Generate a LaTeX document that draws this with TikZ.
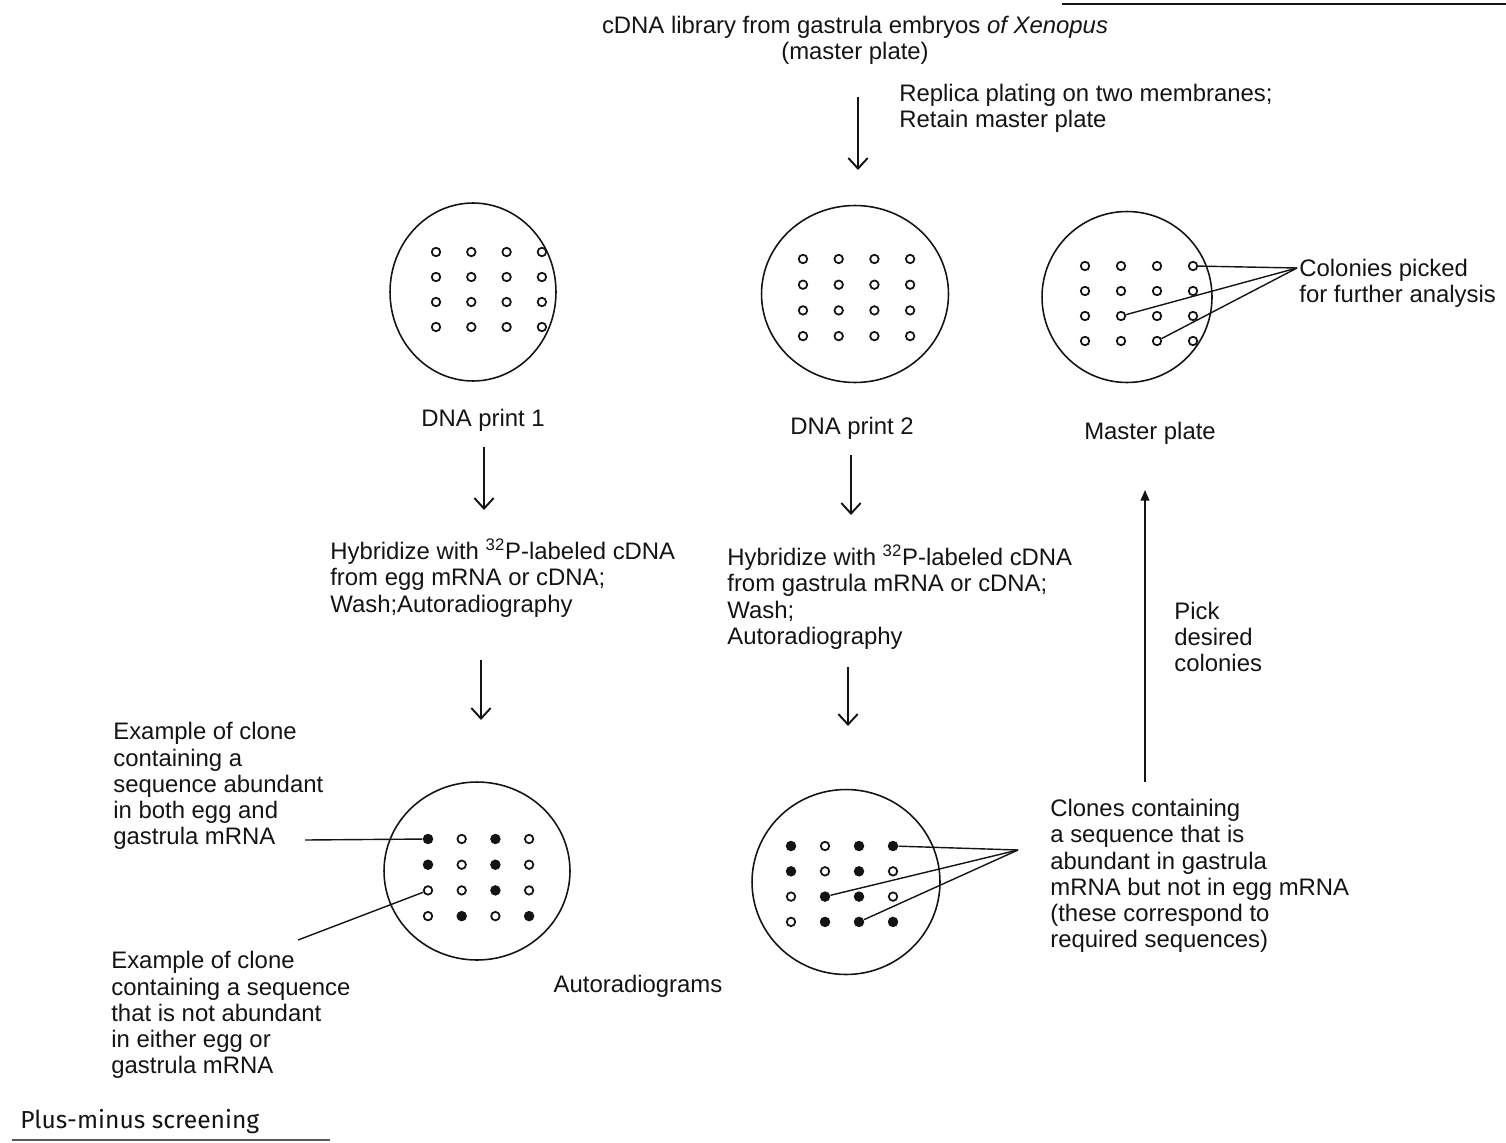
\documentclass[tikz,border=0pt]{standalone}
\usepackage{fontspec}
\setmainfont{Liberation Sans}
\newfontfamily\capfont{Fira Sans}
\usepackage{xcolor}
\usetikzlibrary{arrows.meta,shapes.geometric,positioning}
\definecolor{inkblack}{RGB}{20,20,20}

\begin{document}
\begin{tikzpicture}[
  x=0.02cm,y=-0.02cm,
  every node/.style={text=inkblack},
  txt/.style={font=\fontsize{13.6}{14.9}\selectfont,align=left,inner sep=0pt},
  ctxt/.style={txt,align=center},
  plate/.style={draw=inkblack,ellipse,line width=0.9pt,inner sep=0pt},
  dot0/.style={circle,draw=inkblack,line width=1pt,fill=white,inner sep=0pt,minimum size=0.17cm},
  dot1/.style={circle,fill=inkblack,inner sep=0pt,minimum size=0.21cm},
  flow/.style={-{Straight Barb[length=6pt,width=11pt]},line width=1.1pt,draw=inkblack},
  pick/.style={-{Triangle[length=6pt,width=5pt]},line width=0.8pt,draw=inkblack},
  lead/.style={line width=0.8pt,draw=inkblack}
]
\useasboundingbox (0,0) rectangle (1506,1142);

% master library and replica step
\node[ctxt] (lib) at (855,40) {cDNA library from gastrula embryos \textit{of Xenopus}\\(master plate)};
\coordinate (r1) at (858,97);
\coordinate (r2) at (858,170);
\draw[flow] (r1) -- (r2);
\node[txt,anchor=west] (rep) at (899,108) {Replica plating on two membranes;\\Retain master plate};

% the three plates
\node[plate,minimum width=3.32cm,minimum height=3.56cm] (d1) at (473,292) {};
\node[plate,minimum width=3.74cm,minimum height=3.54cm] (d2) at (855,294) {};
\node[plate,minimum width=3.40cm,minimum height=3.42cm] (mp) at (1127,297) {};
\foreach \r in {1,...,4}
  \foreach \c in {1,...,4} {
    \node[dot0] (pa\r\c) at ({436+(\c-1)*35.3},{252+(\r-1)*25}) {};
    \node[dot0] (pb\r\c) at ({803+(\c-1)*35.7},{259+(\r-1)*25.7}) {};
    \node[dot0] (pm\r\c) at ({1085+(\c-1)*36},{266+(\r-1)*25}) {};
  }
\node[ctxt] (d1lab) at (483,420) {DNA print 1};
\node[ctxt] (d2lab) at (852,428) {DNA print 2};
\node[ctxt] (mplab) at (1150,433) {Master plate};

\coordinate (cp) at (1297,268);
\draw[lead] (pm14) -- (cp);
\draw[lead] (pm32) -- (cp);
\draw[lead] (pm43) -- (cp);
\node[txt,anchor=west] (cpl) at (1299,283) {Colonies picked\\for further analysis};

% hybridization
\coordinate (h1a) at (484,447);
\coordinate (h1b) at (484,510);
\coordinate (h2a) at (851,455);
\coordinate (h2b) at (851,515);
\draw[flow] (h1a) -- (h1b);
\draw[flow] (h2a) -- (h2b);
\node[txt,anchor=west] (hyb1) at (330,578) {Hybridize with \textsuperscript{32}P-labeled cDNA\\from egg mRNA or cDNA;\\Wash;Autoradiography};
\node[txt,anchor=west] (hyb2) at (727,597) {Hybridize with \textsuperscript{32}P-labeled cDNA\\from gastrula mRNA or cDNA;\\Wash;\\Autoradiography};
\coordinate (a1a) at (481,660);
\coordinate (a1b) at (481,720);
\coordinate (a2a) at (848,667);
\coordinate (a2b) at (848,726);
\draw[flow] (a1a) -- (a1b);
\draw[flow] (a2a) -- (a2b);

% autoradiograms
\node[plate,minimum width=3.72cm,minimum height=3.56cm] (ar1) at (477,871) {};
\node[plate,minimum width=3.76cm,minimum height=3.70cm] (ar2) at (846,882) {};
\foreach \r/\pat in {1/{1,0,1,0},2/{1,0,1,0},3/{0,0,1,0},4/{0,1,0,1}}
  \foreach \f [count=\c] in \pat
    \node[dot\f] (ra\r\c) at ({428+(\c-1)*33.7},{839+(\r-1)*25.7}) {};
\foreach \r/\pat in {1/{1,0,1,1},2/{1,0,1,0},3/{0,1,1,0},4/{0,1,1,1}}
  \foreach \f [count=\c] in \pat
    \node[dot\f] (rb\r\c) at ({791+(\c-1)*34},{846+(\r-1)*25.3}) {};
\node[ctxt] (arlab) at (638,986) {Autoradiograms};

\node[txt,anchor=west] (both) at (113,786) {Example of clone\\containing a\\sequence abundant\\in both egg and\\gastrula mRNA};
\node[txt,anchor=west] (none) at (111,1015) {Example of clone\\containing a sequence\\that is not abundant\\in either egg or\\gastrula mRNA};
\coordinate (lb1) at (305,840);
\coordinate (lb2) at (298,940);
\draw[lead] (lb1) -- (ra11);
\draw[lead] (lb2) -- (ra31);

\coordinate (cc) at (1018,850);
\draw[lead] (rb14) -- (cc);
\draw[lead] (rb32) -- (cc);
\draw[lead] (rb43) -- (cc);
\node[txt,anchor=west] (gas) at (1050,876) {Clones containing\\a sequence that is\\abundant in gastrula\\mRNA but not in egg mRNA\\(these correspond to\\required sequences)};

% back up to the master plate
\coordinate (up1) at (1145,782);
\coordinate (up2) at (1145,490);
\draw[pick] (up1) -- (up2);
\node[txt,anchor=west] (pk) at (1174,637) {Pick\\desired\\colonies};

% caption and page rules
\node[anchor=west,inner sep=0pt,font=\capfont\fontsize{14}{16}\selectfont] (cap) at (20,1122) {Plus-minus screening};
\coordinate (t1) at (1062,4);
\coordinate (t2) at (1506,4);
\draw[line width=1.2pt,draw=inkblack] (t1) -- (t2);
\coordinate (b1) at (12,1140);
\coordinate (b2) at (330,1140);
\draw[line width=1pt,draw=inkblack!70] (b1) -- (b2);
\end{tikzpicture}
\end{document}
